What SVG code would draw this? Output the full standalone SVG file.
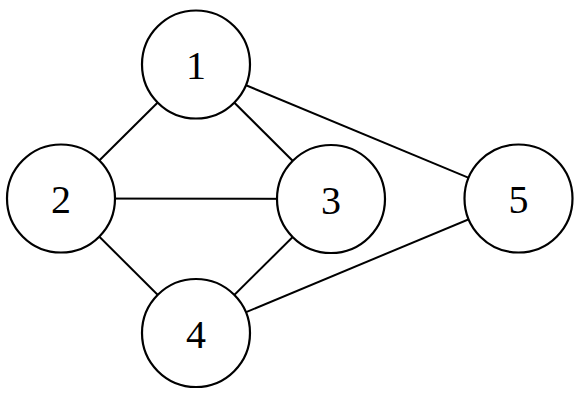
<svg xmlns="http://www.w3.org/2000/svg" width="582" height="400" viewBox="0 0 582 400">
<style>
.e{stroke:#000;stroke-width:2;fill:none}
.n circle{fill:#fff;stroke:#000;stroke-width:2.2}
.n text{font-family:"Liberation Serif",serif;font-size:40px;text-anchor:middle;fill:#000}
</style>
<rect width="582" height="400" fill="#fff"/>
<g id="edges">
<line class="e" x1="196" y1="64.5" x2="61" y2="198.5"/>
<line class="e" x1="196" y1="64.5" x2="331" y2="199"/>
<line class="e" x1="196" y1="64.5" x2="518.5" y2="198.5"/>
<line class="e" x1="61" y1="198.5" x2="331" y2="199"/>
<line class="e" x1="61" y1="198.5" x2="196" y2="333"/>
<line class="e" x1="331" y1="199" x2="196" y2="333"/>
<line class="e" x1="196" y1="333" x2="518.5" y2="198.5"/>
</g>
<g id="node1" class="n"><circle cx="196" cy="64.5" r="54"/><text x="196" y="79">1</text></g>
<g id="node2" class="n"><circle cx="61" cy="198.5" r="54"/><text x="61" y="213">2</text></g>
<g id="node3" class="n"><circle cx="331" cy="199" r="54"/><text x="331" y="213.5">3</text></g>
<g id="node4" class="n"><circle cx="196" cy="333" r="54"/><text x="196" y="347.5">4</text></g>
<g id="node5" class="n"><circle cx="518.5" cy="198.5" r="54"/><text x="518.5" y="213">5</text></g>
</svg>
